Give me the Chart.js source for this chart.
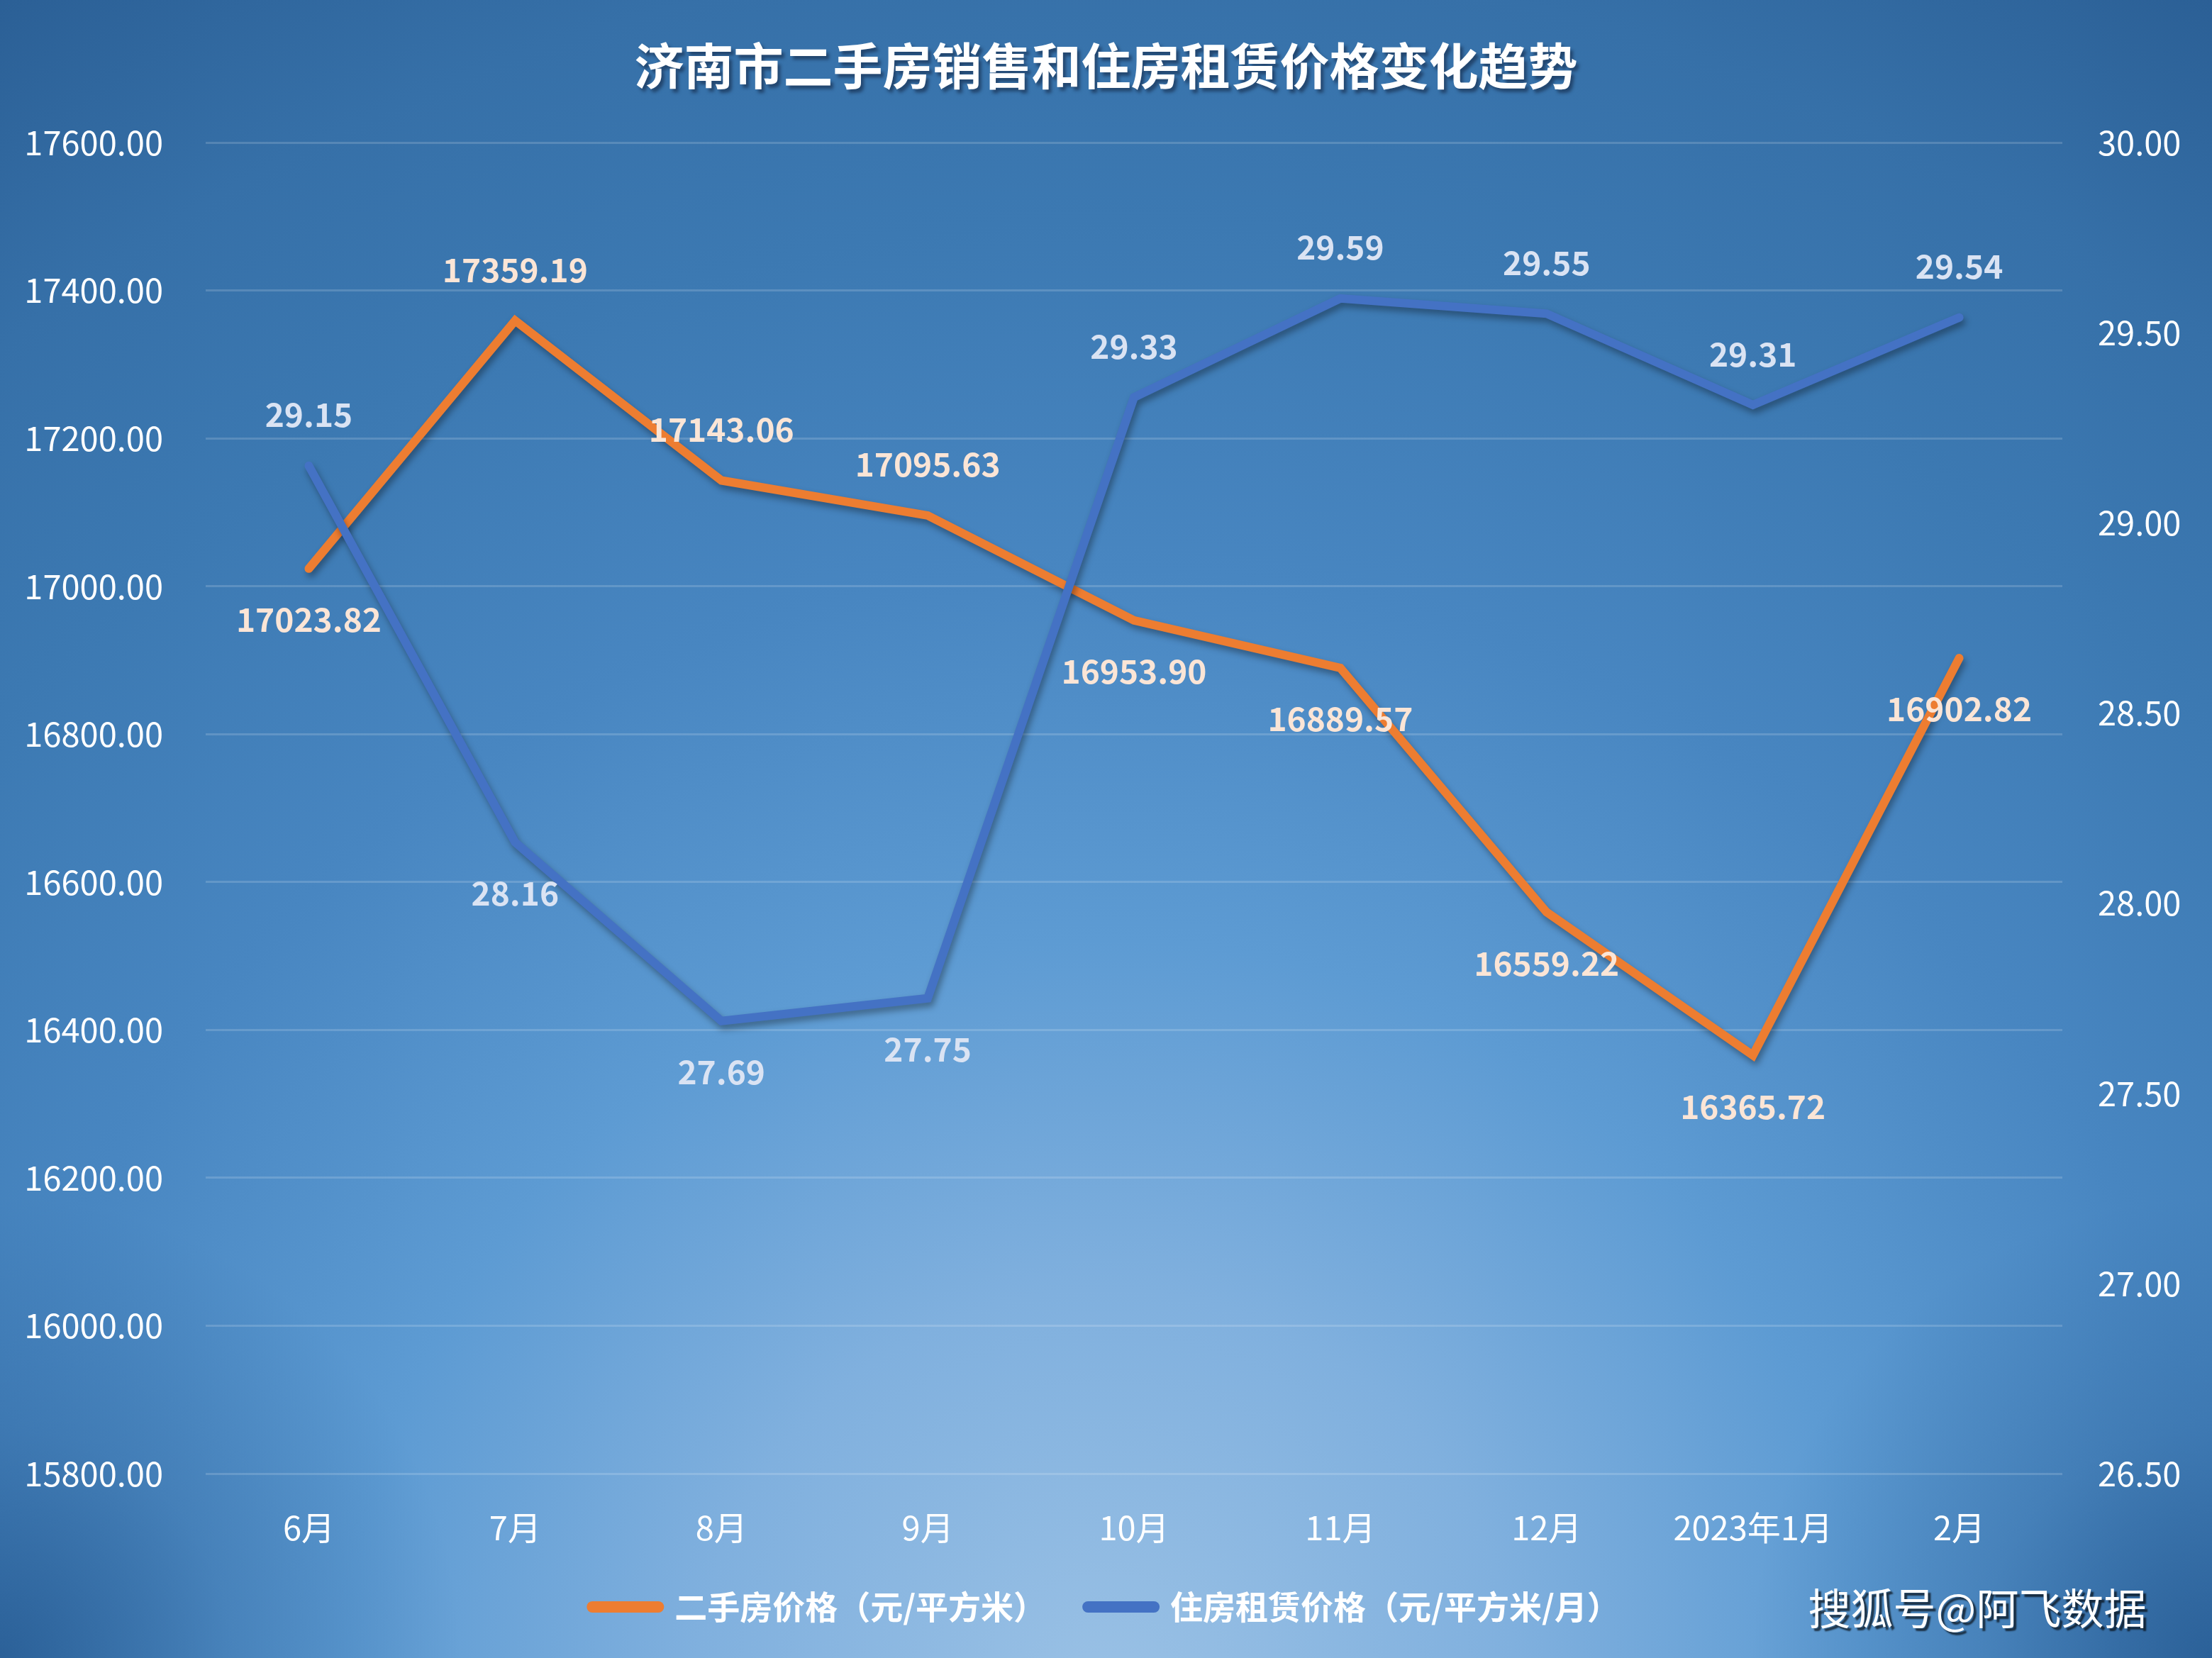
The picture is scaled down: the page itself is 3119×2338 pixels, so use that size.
<!DOCTYPE html>
<html>
<head>
<meta charset="utf-8">
<title>济南市二手房销售和住房租赁价格变化趋势</title>
<script src="https://cdn.jsdelivr.net/npm/chart.js@4.4.0/dist/chart.umd.min.js"></script>
<style>
    html, body { margin: 0; padding: 0; background: #3b77b0; }
    #wrap { width: 3119px; height: 2338px; }
</style>
</head>
<body>
<div id="wrap"><canvas id="trendChart" width="3119" height="2338"></canvas></div>
<script>
const months = ['6月', '7月', '8月', '9月', '10月', '11月', '12月', '2023年1月', '2月'];
const salePrice = [17023.82, 17359.19, 17143.06, 17095.63, 16953.90, 16889.57, 16559.22, 16365.72, 16902.82];
const rentPrice = [29.15, 28.16, 27.69, 27.75, 29.33, 29.59, 29.55, 29.31, 29.54];

const saleAxisMin = 15800;
const saleAxisMax = 17600;
const saleAxisStep = 200;
const rentAxisMin = 26.5;
const rentAxisMax = 30;
const rentAxisStep = 0.5;

const saleLabel = '二手房价格（元/平方米）';
const rentLabel = '住房租赁价格（元/平方米/月）';
const chartTitle = '济南市二手房销售和住房租赁价格变化趋势';
const watermark = '搜狐号@阿飞数据';

const fontFamily = '"Noto Sans CJK SC", "Noto Sans", sans-serif';

// radial background, light at the bottom centre, darker bottom corners
const backgroundPlugin = {
    id: 'background',
    beforeDraw(chart) {
        const { ctx, width, height } = chart;
        const g = ctx.createRadialGradient(width / 2, height + 60, 0, width / 2, height + 60, 2900);
        g.addColorStop(0, '#9ac1e5');
        g.addColorStop(0.2, '#80b0de');
        g.addColorStop(0.37, '#5d9bd3');
        g.addColorStop(0.55, '#4886c1');
        g.addColorStop(0.72, '#3c79b2');
        g.addColorStop(0.85, '#3670a8');
        g.addColorStop(1, '#2a5e94');
        ctx.save();
        ctx.fillStyle = g;
        ctx.fillRect(0, 0, width, height);
        [0, width].forEach((cx) => {
            const v = ctx.createRadialGradient(cx, height, 0, cx, height, 650);
            v.addColorStop(0, 'rgba(38, 90, 145, 0.85)');
            v.addColorStop(0.5, 'rgba(38, 90, 145, 0.3)');
            v.addColorStop(1, 'rgba(38, 90, 145, 0)');
            ctx.fillStyle = v;
            ctx.fillRect(0, 0, width, height);
        });
        ctx.restore();
    },
};

const lineShadowPlugin = {
    id: 'lineShadow',
    beforeDatasetDraw(chart) {
        const ctx = chart.ctx;
        ctx.save();
        ctx.shadowColor = 'rgba(0, 0, 0, 0.35)';
        ctx.shadowBlur = 10;
        ctx.shadowOffsetX = 3;
        ctx.shadowOffsetY = 6;
    },
    afterDatasetDraw(chart) {
        chart.ctx.restore();
    },
};

// value labels: the upper line gets its label above, the lower one below
const valueLabelPlugin = {
    id: 'valueLabels',
    afterDatasetsDraw(chart) {
        const ctx = chart.ctx;
        const saleMeta = chart.getDatasetMeta(0);
        const rentMeta = chart.getDatasetMeta(1);
        const colors = ['#fbe5d6', '#dae3f3'];
        ctx.save();
        ctx.font = 'bold 46px ' + fontFamily;
        ctx.textAlign = 'center';
        ctx.textBaseline = 'middle';
        months.forEach((m, i) => {
            const a = saleMeta.data[i];
            const b = rentMeta.data[i];
            const saleAbove = a.y < b.y;
            ctx.fillStyle = colors[0];
            ctx.fillText(salePrice[i].toFixed(2), a.x, a.y + (saleAbove ? -72 : 72));
            ctx.fillStyle = colors[1];
            ctx.fillText(rentPrice[i].toFixed(2), b.x, b.y + (saleAbove ? 72 : -72));
        });
        ctx.restore();
    },
};

const overlayTextPlugin = {
    id: 'overlayText',
    afterDraw(chart) {
        const ctx = chart.ctx;
        ctx.save();
        ctx.textAlign = 'center';
        ctx.textBaseline = 'middle';
        ctx.fillStyle = '#ffffff';
        ctx.shadowColor = 'rgba(20, 40, 70, 0.6)';
        ctx.shadowBlur = 4;
        ctx.shadowOffsetX = 4;
        ctx.shadowOffsetY = 5;
        ctx.font = 'bold 70px ' + fontFamily;
        ctx.fillText(chartTitle, chart.width / 2, 93);
        ctx.shadowColor = 'rgba(0, 0, 0, 0.65)';
        ctx.shadowBlur = 2;
        ctx.shadowOffsetX = 4;
        ctx.shadowOffsetY = 4;
        ctx.font = '60px ' + fontFamily;
        ctx.fillText(watermark, 2788, 2268);
        ctx.restore();
    },
};

const tickFont = { family: fontFamily, size: 47 };

new Chart(document.getElementById('trendChart').getContext('2d'), {
    type: 'line',
    data: {
        labels: months,
        datasets: [
            {
                label: saleLabel,
                data: salePrice,
                yAxisID: 'y',
                borderColor: '#ed7d31',
                backgroundColor: '#ed7d31',
                borderWidth: 12,
                borderCapStyle: 'round',
                borderJoinStyle: 'miter',
                pointRadius: 0,
                tension: 0,
                order: 1,
            },
            {
                label: rentLabel,
                data: rentPrice,
                yAxisID: 'y1',
                borderColor: '#4472c4',
                backgroundColor: '#4472c4',
                borderWidth: 12,
                borderCapStyle: 'round',
                borderJoinStyle: 'miter',
                pointRadius: 0,
                tension: 0,
                order: 0,
            },
        ],
    },
    options: {
        responsive: false,
        animation: false,
        layout: { padding: { top: 201, left: 0, right: 0, bottom: 39 } },
        plugins: {
            title: { display: false },
            tooltip: { enabled: false },
            legend: {
                position: 'bottom',
                labels: {
                    color: '#ffffff',
                    font: { family: fontFamily, size: 46, weight: 'bold' },
                    usePointStyle: true,
                    pointStyle: 'line',
                    pointStyleWidth: 93,
                    padding: 59,
                    sort: (a, b) => a.datasetIndex - b.datasetIndex,
                    generateLabels: (chart) =>
                        Chart.defaults.plugins.legend.labels.generateLabels(chart).map((item) => ({
                            ...item,
                            lineWidth: 16,
                            lineCap: 'round',
                            strokeStyle: chart.data.datasets[item.datasetIndex].borderColor,
                        })),
                },
            },
        },
        scales: {
            x: {
                offset: true,
                grid: { display: false, drawTicks: false },
                border: { display: false },
                ticks: { color: '#ffffff', font: tickFont, padding: 48, maxRotation: 0, autoSkip: false },
                afterFit: (s) => { s.height = 106; },
            },
            y: {
                position: 'left',
                min: saleAxisMin,
                max: saleAxisMax,
                grid: { color: 'rgba(255, 255, 255, 0.16)', lineWidth: 3, drawTicks: false },
                border: { display: false },
                ticks: {
                    stepSize: saleAxisStep,
                    color: '#ffffff',
                    font: tickFont,
                    padding: 60,
                    callback: (v) => Number(v).toFixed(2),
                },
                afterFit: (s) => { s.width = 290; },
            },
            y1: {
                position: 'right',
                min: rentAxisMin,
                max: rentAxisMax,
                grid: { display: false, drawTicks: false },
                border: { display: false },
                ticks: {
                    stepSize: rentAxisStep,
                    color: '#ffffff',
                    font: tickFont,
                    padding: 50,
                    callback: (v) => Number(v).toFixed(2),
                },
                afterFit: (s) => { s.width = 211; },
            },
        },
    },
    plugins: [backgroundPlugin, lineShadowPlugin, valueLabelPlugin, overlayTextPlugin],
});
</script>
</body>
</html>
